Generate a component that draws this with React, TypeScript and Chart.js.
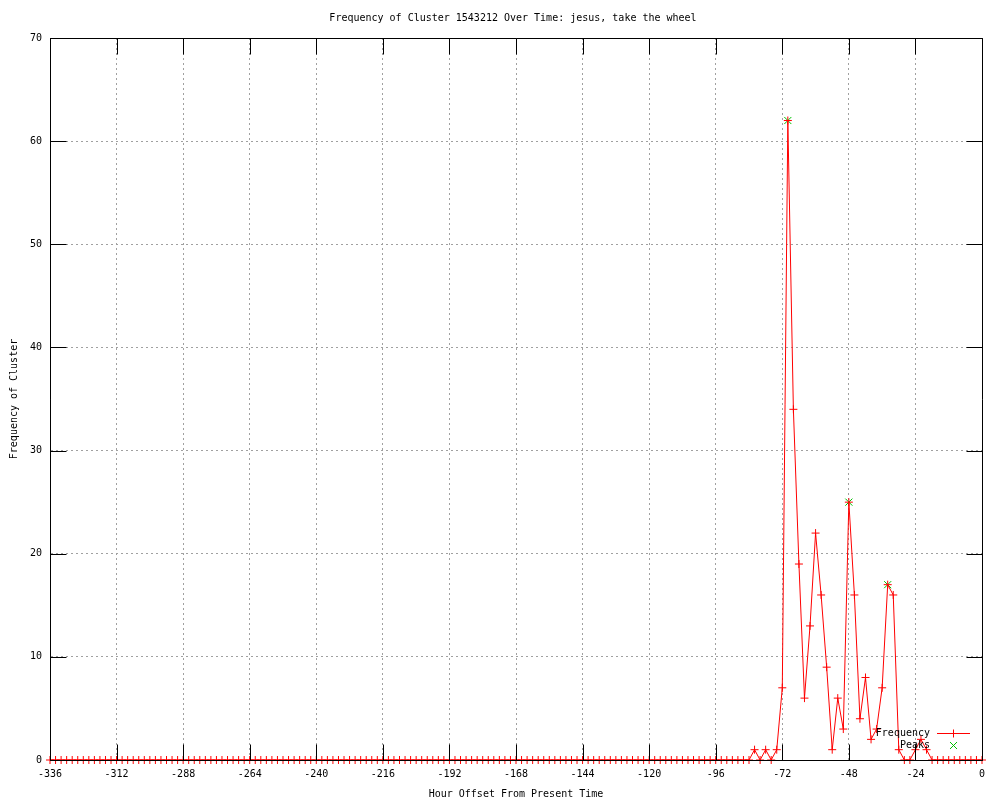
import React, { useEffect, useRef } from 'react';
import { Chart, registerables } from 'chart.js';

Chart.register(...registerables);

const TITLE = 'Frequency of Cluster 1543212 Over Time: jesus, take the wheel';
const X_TITLE = 'Hour Offset From Present Time';
const Y_TITLE = 'Frequency of Cluster';

const HOURS = [
  -336, -334, -332, -330, -328, -326, -324, -322, -320, -318, -316, -314,
  -312, -310, -308, -306, -304, -302, -300, -298, -296, -294, -292, -290,
  -288, -286, -284, -282, -280, -278, -276, -274, -272, -270, -268, -266,
  -264, -262, -260, -258, -256, -254, -252, -250, -248, -246, -244, -242,
  -240, -238, -236, -234, -232, -230, -228, -226, -224, -222, -220, -218,
  -216, -214, -212, -210, -208, -206, -204, -202, -200, -198, -196, -194,
  -192, -190, -188, -186, -184, -182, -180, -178, -176, -174, -172, -170,
  -168, -166, -164, -162, -160, -158, -156, -154, -152, -150, -148, -146,
  -144, -142, -140, -138, -136, -134, -132, -130, -128, -126, -124, -122,
  -120, -118, -116, -114, -112, -110, -108, -106, -104, -102, -100, -98,
  -96, -94, -92, -90, -88, -86, -84, -82, -80, -78, -76, -74,
  -72, -70, -68, -66, -64, -62, -60, -58, -56, -54, -52, -50,
  -48, -46, -44, -42, -40, -38, -36, -34, -32, -30, -28, -26,
  -24, -22, -20, -18, -16, -14, -12, -10, -8, -6, -4, -2,
  0,
];

const FREQUENCY = [
  0, 0, 0, 0, 0, 0, 0, 0, 0, 0, 0, 0,
  0, 0, 0, 0, 0, 0, 0, 0, 0, 0, 0, 0,
  0, 0, 0, 0, 0, 0, 0, 0, 0, 0, 0, 0,
  0, 0, 0, 0, 0, 0, 0, 0, 0, 0, 0, 0,
  0, 0, 0, 0, 0, 0, 0, 0, 0, 0, 0, 0,
  0, 0, 0, 0, 0, 0, 0, 0, 0, 0, 0, 0,
  0, 0, 0, 0, 0, 0, 0, 0, 0, 0, 0, 0,
  0, 0, 0, 0, 0, 0, 0, 0, 0, 0, 0, 0,
  0, 0, 0, 0, 0, 0, 0, 0, 0, 0, 0, 0,
  0, 0, 0, 0, 0, 0, 0, 0, 0, 0, 0, 0,
  0, 0, 0, 0, 0, 0, 0, 1, 0, 1, 0, 1,
  7, 62, 34, 19, 6, 13, 22, 16, 9, 1, 6, 3,
  25, 16, 4, 8, 2, 3, 7, 17, 16, 1, 0, 0,
  1, 2, 1, 0, 0, 0, 0, 0, 0, 0, 0, 0,
  0,
];

const PEAK_HOURS = [-70, -48, -34];
const PEAK_VALUES = [62, 25, 17];

const X_MIN = -336;
const X_MAX = 0;
const X_STEP = 24;
const Y_MIN = 0;
const Y_MAX = 70;
const Y_STEP = 10;

const SERIES_LABELS = ['Frequency', 'Peaks'];

const FONT = "'DejaVu Sans Mono', 'Liberation Mono', monospace";
const RED = '#ff0000';
const GREEN = '#00c000';
const GRID = '#a0a0a0';

const framePlugin = {
  id: 'gnuplotFrame',
  afterDatasetsDraw(chart: any) {
    const { ctx, chartArea } = chart;
    const { left, right, top, bottom } = chartArea;
    const xs = chart.scales.x;
    const ys = chart.scales.y;
    const TL = 16;
    const px = (v: number) => Math.round(v) + 0.5;
    ctx.save();
    ctx.strokeStyle = '#000';
    ctx.lineWidth = 1;
    ctx.setLineDash([]);
    ctx.beginPath();
    for (let v = X_MIN; v <= X_MAX; v += X_STEP) {
      const x = px(xs.getPixelForValue(v));
      ctx.moveTo(x, px(bottom));
      ctx.lineTo(x, px(bottom) - TL);
      ctx.moveTo(x, px(top));
      ctx.lineTo(x, px(top) + TL);
    }
    for (let v = Y_MIN; v <= Y_MAX; v += Y_STEP) {
      const y = px(ys.getPixelForValue(v));
      ctx.moveTo(px(left), y);
      ctx.lineTo(px(left) + TL, y);
      ctx.moveTo(px(right), y);
      ctx.lineTo(px(right) - TL, y);
    }
    ctx.rect(px(left), px(top), Math.round(right) - Math.round(left), Math.round(bottom) - Math.round(top));
    ctx.stroke();

    // title (gnuplot centres it on the whole canvas, slightly right)
    ctx.font = `10px ${FONT}`;
    ctx.fillStyle = '#000';
    ctx.textAlign = 'center';
    ctx.textBaseline = 'middle';
    ctx.fillText(TITLE, 513, 18);

    // legend
    ctx.textAlign = 'right';
    const textRight = 930;
    const y1 = 733.5;
    const y2 = 745.5;
    ctx.fillText(SERIES_LABELS[0], textRight, y1);
    ctx.fillText(SERIES_LABELS[1], textRight, y2);
    ctx.strokeStyle = RED;
    ctx.beginPath();
    ctx.moveTo(937, y1);
    ctx.lineTo(970, y1);
    ctx.moveTo(953.5, y1 - 4);
    ctx.lineTo(953.5, y1 + 4);
    ctx.stroke();
    ctx.strokeStyle = GREEN;
    ctx.beginPath();
    const cx = 953.5;
    const d = 3.5;
    ctx.moveTo(cx - d, y2 - d);
    ctx.lineTo(cx + d, y2 + d);
    ctx.moveTo(cx - d, y2 + d);
    ctx.lineTo(cx + d, y2 - d);
    ctx.stroke();
    ctx.restore();
  },
};

export default function App() {
  const canvasRef = useRef<HTMLCanvasElement | null>(null);

  useEffect(() => {
    document.body.style.margin = '0';
    const canvas = canvasRef.current;
    if (!canvas) return;
    const freqData = HOURS.map((h, i) => ({ x: h, y: FREQUENCY[i] }));
    const peakData = PEAK_HOURS.map((h, i) => ({ x: h, y: PEAK_VALUES[i] }));

    const chart = new Chart(canvas, {
      type: 'line',
      data: {
        datasets: [
          {
            label: SERIES_LABELS[0],
            data: freqData,
            borderColor: RED,
            borderWidth: 1,
            pointStyle: 'cross',
            pointRadius: 4,
            pointBorderColor: RED,
            pointBorderWidth: 1,
            pointHoverRadius: 4,
            fill: false,
            tension: 0,
            clip: false as any,
          },
          {
            label: SERIES_LABELS[1],
            data: peakData,
            showLine: false,
            borderColor: GREEN,
            pointStyle: 'crossRot',
            pointRadius: 5,
            pointBorderColor: GREEN,
            pointBorderWidth: 1,
            pointHoverRadius: 5,
            clip: false as any,
          },
        ],
      },
      options: {
        responsive: false,
        animation: false,
        events: [],
        layout: { padding: { top: 38, right: 18, bottom: 0, left: 0 } },
        plugins: {
          legend: { display: false },
          tooltip: { enabled: false },
          title: { display: false },
        },
        scales: {
          x: {
            type: 'linear',
            min: X_MIN,
            max: X_MAX,
            afterFit: (s: any) => {
              s.height = 40;
            },
            ticks: {
              stepSize: X_STEP,
              color: '#000',
              font: { family: FONT, size: 10 },
              padding: 8,
              maxRotation: 0,
              autoSkip: false,
            },
            grid: { color: GRID, lineWidth: 1, drawTicks: false },
            border: { display: true, color: '#000', width: 1, dash: [2, 3] },
            title: {
              display: true,
              text: X_TITLE,
              color: '#000',
              font: { family: FONT, size: 10 },
              padding: { top: 0, bottom: 0 },
            },
          },
          y: {
            type: 'linear',
            min: Y_MIN,
            max: Y_MAX,
            afterFit: (s: any) => {
              s.width = 50;
            },
            ticks: {
              stepSize: Y_STEP,
              color: '#000',
              font: { family: FONT, size: 10 },
              padding: 8,
            },
            grid: { color: GRID, lineWidth: 1, drawTicks: false },
            border: { display: true, color: '#000', width: 1, dash: [2, 3] },
            title: {
              display: true,
              text: Y_TITLE,
              color: '#000',
              font: { family: FONT, size: 10 },
              padding: { top: 8, bottom: 0 },
            },
          },
        },
      },
      plugins: [framePlugin],
    });
    return () => chart.destroy();
  }, []);

  return (
    <div style={{ width: 1000, height: 800 }}>
      <canvas ref={canvasRef} width={1000} height={800} />
    </div>
  );
}
